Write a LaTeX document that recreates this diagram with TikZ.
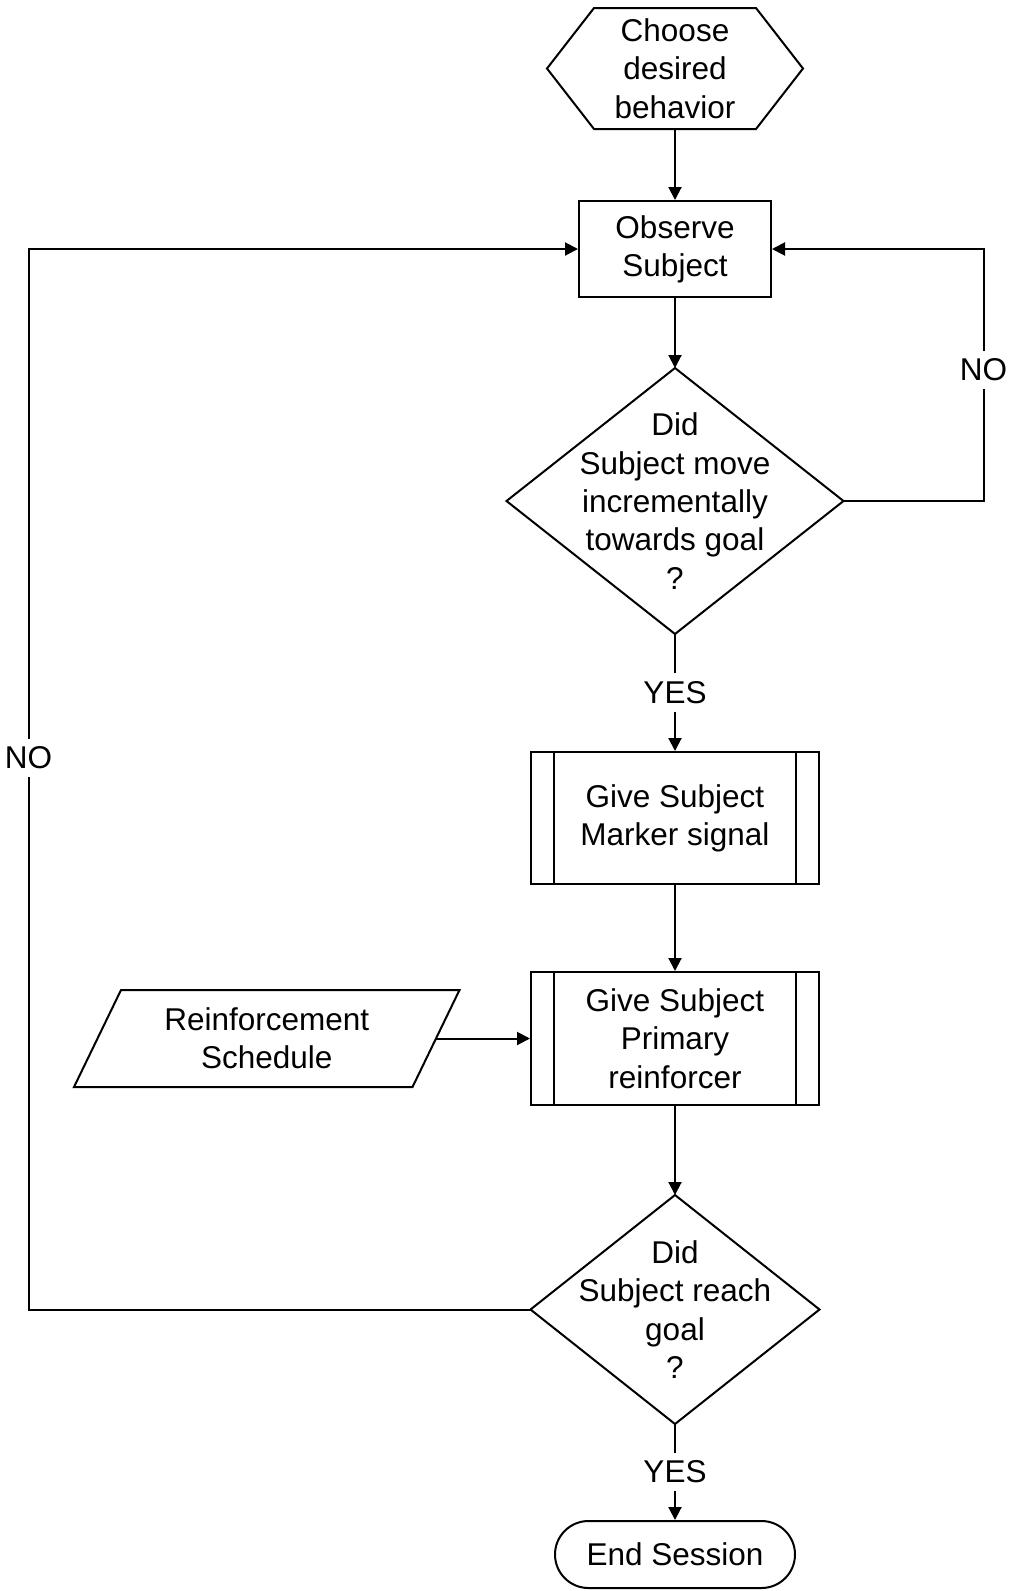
\documentclass[tikz,border=0pt]{standalone}
\usepackage{fontspec}
\setmainfont{Liberation Sans}
\usetikzlibrary{positioning,arrows.meta}

\begin{document}
\begin{tikzpicture}[
    font=\fontsize{15.75}{19.15}\selectfont,
    line width=1pt,
    box/.style={align=center, inner sep=0pt},
    proc/.style={box, draw, minimum width=96pt, minimum height=48pt},
    subproc/.style={box, draw, minimum width=144pt, minimum height=66pt},
    decide/.style={box},
    term/.style={box, draw, rounded corners=16.75pt, minimum width=120pt, minimum height=33.5pt},
    lbl/.style={fill=white, inner sep=4pt},
    arr/.style={-{Triangle[length=6.5pt, width=6.5pt]}},
  ]
  \useasboundingbox (0,0) rectangle (507pt,-795.5pt);

  % ===== main column =====
  \node[box, minimum width=127pt, minimum height=59.5pt] (choose) at (337.5pt,-34.25pt)
    {Choose\\desired\\behavior};
  \node[proc, below=35.5pt of choose] (observe) {Observe\\Subject};
  \node[decide, minimum width=167.5pt, minimum height=132pt, below=35pt of observe] (move)
    {Did\\Subject move\\incrementally\\towards goal\\?};
  \node[subproc, below=58.5pt of move] (marker) {Give Subject\\Marker signal};
  \node[subproc, minimum height=66.5pt, below=43pt of marker] (primary)
    {Give Subject\\Primary\\reinforcer};
  \node[decide, minimum width=143.5pt, minimum height=113.5pt, below=44.5pt of primary] (goal)
    {Did\\Subject reach\\goal\\?};
  \node[term, below=48pt of goal] (endsess) {End Session};

  % ===== side input =====
  \node[box, minimum width=168.25pt, minimum height=47.5pt, left=47pt of primary] (sched)
    {Reinforcement\\Schedule};

  % ===== outlines of the non-rectangular shapes =====
  \draw (choose.west) -- ([xshift=23.5pt]choose.north west) -- ([xshift=-23.5pt]choose.north east)
        -- (choose.east) -- ([xshift=-23.5pt]choose.south east) -- ([xshift=23.5pt]choose.south west) -- cycle;
  \draw (move.north) -- (move.east) -- (move.south) -- (move.west) -- cycle;
  \draw (goal.north) -- (goal.east) -- (goal.south) -- (goal.west) -- cycle;
  \draw ([xshift=-11.75pt]sched.south west) -- ([xshift=11.75pt]sched.north west)
        -- ([xshift=11.75pt]sched.north east) -- ([xshift=-11.75pt]sched.south east) -- cycle;
  % side bars of the predefined steps
  \draw ([xshift=12pt]marker.north west) -- ([xshift=12pt]marker.south west);
  \draw ([xshift=-12pt]marker.north east) -- ([xshift=-12pt]marker.south east);
  \draw ([xshift=12pt]primary.north west) -- ([xshift=12pt]primary.south west);
  \draw ([xshift=-12pt]primary.north east) -- ([xshift=-12pt]primary.south east);

  % ===== arrows =====
  \draw[arr] (choose) -- (observe);
  \draw[arr] (observe) -- (move);
  \draw[arr] (move) -- (marker) node[lbl, midway]{YES};
  \draw[arr] (marker) -- (primary);
  \draw[arr] (sched.east) -- (primary.west);
  \draw[arr] (primary) -- (goal);
  \draw[arr] (goal) -- (endsess) node[lbl, midway]{YES};
  \draw[arr] (move.east) -- ++(70pt,0) |- (observe.east) node[lbl, pos=0.26]{NO};
  \draw[arr] (goal.west) -- ++(-251pt,0) |- (observe.west) node[lbl, pos=0.26]{NO};

\end{tikzpicture}
\end{document}
